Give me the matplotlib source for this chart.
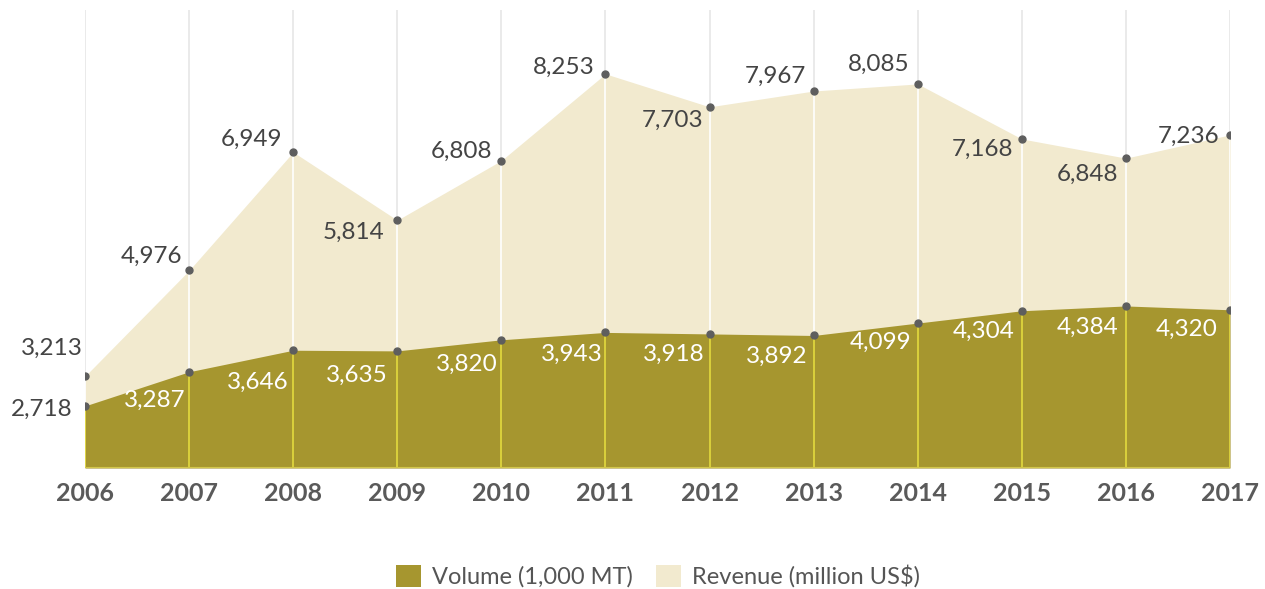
import matplotlib.pyplot as plt
from matplotlib.patches import Patch

plt.rcParams['font.family'] = ['Lato', 'DejaVu Sans']

years = [2006, 2007, 2008, 2009, 2010, 2011, 2012, 2013, 2014, 2015, 2016, 2017]
volume = [2718, 3287, 3646, 3635, 3820, 3943, 3918, 3892, 4099, 4304, 4384, 4320]
revenue = [3213, 4976, 6949, 5814, 6808, 8253, 7703, 7967, 8085, 7168, 6848, 7236]

vol_color = "#a6962f"
rev_color = "#f2eacf"
dot_color = "#5e5e5e"

# label offsets (pixels) relative to each dot
rev_dx = [-2, -7, -11, -13, -9, -11, -6, -8, -8, -9, -8, -11]
rev_dy = [28, 14, 13, -12, 9, 6, -14, 15, 20, -10, -16, -1]
vol_dx = [-13, -4, -5, -10, -4, -3, -5, -6, -6, -7, -7, -12]
vol_dy = [-3, -29, -32, -24, -25, -22, -20, -21, -19, -21, -21, -20]

fig = plt.figure(figsize=(12.65, 5.89), dpi=100)
ax = fig.add_axes([85 / 1265, 1 - 468 / 589, 1145 / 1265, 458 / 589])
ymin, ymax = 1683, 9317
ax.set_xlim(2006, 2017)
ax.set_ylim(ymin, ymax)

# grid lines: gray above, white in revenue area, yellow in volume area
ax.vlines(years, ymin, ymax, color="#e6e6e6", lw=1.2, zorder=0)
ax.fill_between(years, ymin, revenue, color=rev_color, lw=0, zorder=1)
ax.fill_between(years, ymin, volume, color=vol_color, lw=0, zorder=2)
ax.vlines(years, volume, revenue, color="white", lw=1.2, zorder=3)
ax.vlines(years, ymin, volume, color="#e3da3e", lw=1.2, zorder=3)
ax.plot([2006, 2017], [ymin, ymin], color="#d2c64a", lw=1.5, zorder=3,
        solid_capstyle="butt")

ax.plot(years, revenue, "o", color=dot_color, ms=5, zorder=5)
ax.plot(years, volume, "o", color=dot_color, ms=5, zorder=5)

for i, yr in enumerate(years):
    ax.annotate(f"{revenue[i]:,}", (yr, revenue[i]), xytext=(rev_dx[i], rev_dy[i]),
                textcoords="offset pixels", ha="right", va="center",
                fontsize=17.5, color="#444444", zorder=6)
    ax.annotate(f"{volume[i]:,}", (yr, volume[i]), xytext=(vol_dx[i], vol_dy[i]),
                textcoords="offset pixels", ha="right", va="center",
                fontsize=17.5, color="#444444" if i == 0 else "white", zorder=6)

ax.set_xticks(years)
ax.set_xticklabels([str(y) for y in years], fontsize=18, fontweight="bold",
                   color="#5a5a5a")
ax.tick_params(axis="x", length=0, pad=10)
ax.set_yticks([])
for s in ax.spines.values():
    s.set_visible(False)
ax.patch.set_alpha(0)

handles = [Patch(facecolor=vol_color, label="Volume (1,000 MT)"),
           Patch(facecolor=rev_color, label="Revenue (million US$)")]
fig.legend(handles=handles, loc="center", bbox_to_anchor=(0.52, 0.022), ncol=2,
           frameon=False, fontsize=17, handlelength=1.06, handleheight=1.06,
           handletextpad=0.45, columnspacing=1.0, labelcolor="#555555",
           borderpad=0)

fig.savefig("out.png", dpi=100)
